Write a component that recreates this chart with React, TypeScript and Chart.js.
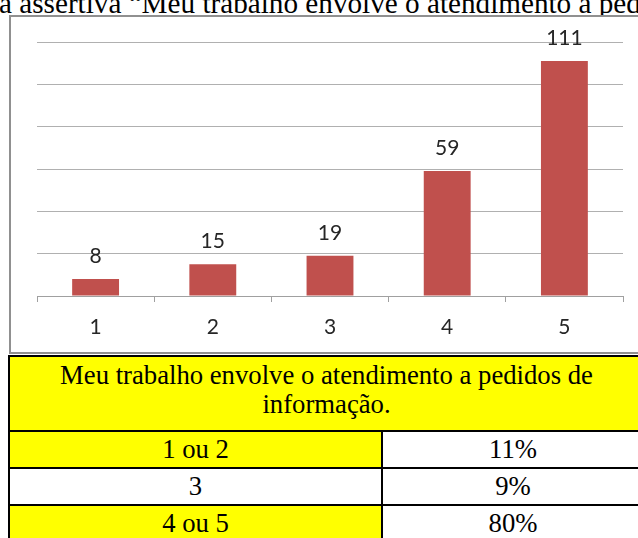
import React, { useEffect, useRef } from "react";
import { Chart, registerables } from "chart.js";

Chart.register(...registerables);

const titleText = "a assertiva “Meu trabalho envolve o atendimento a pedidos de informação.”";
const categories = ["1", "2", "3", "4", "5"];
const counts = [8, 15, 19, 59, 111];
const yMax = 120;
const yStep = 20;
const tableHeader = "Meu trabalho envolve o atendimento a pedidos de informação.";
const tableLabels = ["1 ou 2", "3", "4 ou 5"];
const tablePercents = ["11%", "9%", "80%"];
const labelYellow = [true, false, true];

const BAR_COLOR = "#C0504D";
const TEXT_DARK = "#262626";

const valueLabels = {
  id: "valueLabels",
  afterDatasetsDraw(chart: any) {
    const ctx = chart.ctx;
    const meta = chart.getDatasetMeta(0);
    const data = chart.data.datasets[0].data;
    ctx.save();
    ctx.font = "21px Lato";
    ctx.fillStyle = TEXT_DARK;
    ctx.textAlign = "center";
    ctx.textBaseline = "alphabetic";
    meta.data.forEach((el: any, i: number) => {
      ctx.fillText(String(data[i]), el.x, el.y - 16);
    });
    ctx.restore();
  },
};

function BarChart() {
  const ref = useRef<HTMLCanvasElement | null>(null);
  useEffect(() => {
    if (!ref.current) return;
    const chart = new Chart(ref.current, {
      type: "bar",
      data: {
        labels: categories,
        datasets: [
          {
            data: counts,
            backgroundColor: BAR_COLOR,
            borderWidth: 0,
            barPercentage: 0.4,
            categoryPercentage: 1,
          },
        ],
      },
      options: {
        responsive: false,
        animation: false,
        devicePixelRatio: 1,
        layout: { padding: { left: 26, right: 15, top: 25, bottom: 0 } },
        plugins: {
          legend: { display: false },
          tooltip: { enabled: false },
          title: { display: false },
        },
        scales: {
          x: {
            afterFit: (s: any) => {
              s.height = 56;
            },
            grid: {
              display: true,
              drawOnChartArea: false,
              drawTicks: true,
              tickLength: 6,
              color: "#a0a0a0",
              offset: true,
            },
            border: { display: true, color: "#a0a0a0", width: 1 },
            ticks: {
              color: TEXT_DARK,
              font: { family: "Lato", size: 21 },
              padding: 13,
              maxRotation: 0,
            },
          },
          y: {
            min: 0,
            max: yMax,
            afterFit: (s: any) => {
              s.width = 0;
            },
            ticks: { display: false, stepSize: yStep },
            grid: { color: "#b0b0b0", drawTicks: false },
            border: { display: false },
          },
        },
      },
      plugins: [valueLabels],
    });
    return () => chart.destroy();
  }, []);
  return <canvas ref={ref} width={627} height={335} style={{ display: "block", width: 627, height: 335 }} />;
}

export default function App() {
  const serif = '"Liberation Serif", "Times New Roman", serif';
  const rowTops = [432, 469, 506];
  return (
    <div
      style={{
        position: "fixed",
        left: 0,
        top: 0,
        width: 638,
        height: 538,
        overflow: "hidden",
        background: "#fff",
      }}
    >
      <div
        style={{
          position: "absolute",
          left: -1,
          top: -11.5,
          fontFamily: serif,
          fontSize: 29.2,
          lineHeight: "29.2px",
          whiteSpace: "nowrap",
          color: "#000",
        }}
      >
        {titleText}
      </div>
      <div
        style={{
          position: "absolute",
          left: 9,
          top: 15,
          width: 700,
          height: 339,
          boxSizing: "border-box",
          border: "2px solid #909090",
          background: "#fff",
        }}
      />
      <div style={{ position: "absolute", left: 11, top: 17 }}>
        <BarChart />
      </div>
      <div
        style={{
          position: "absolute",
          left: 8,
          top: 355,
          width: 637,
          height: 188,
          background: "#000",
          fontFamily: serif,
          fontSize: 26.7,
          color: "#000",
        }}
      >
        <div
          style={{
            position: "absolute",
            left: 2,
            top: 2,
            width: 633,
            height: 73,
            background: "#ffff00",
            textAlign: "center",
            lineHeight: "29px",
            paddingTop: 4,
            paddingLeft: 6,
            paddingRight: 6,
            boxSizing: "border-box",
          }}
        >
          {tableHeader}
        </div>
        {tableLabels.map((lab, i) => (
          <React.Fragment key={lab}>
            <div
              style={{
                position: "absolute",
                left: 2,
                top: rowTops[i] - 355,
                width: 371,
                height: 35,
                lineHeight: "35px",
                textAlign: "center",
                background: labelYellow[i] ? "#ffff00" : "#fff",
              }}
            >
              {lab}
            </div>
            <div
              style={{
                position: "absolute",
                left: 375,
                top: rowTops[i] - 355,
                width: 260,
                height: 35,
                lineHeight: "35px",
                textAlign: "center",
                background: "#fff",
              }}
            >
              {tablePercents[i]}
            </div>
          </React.Fragment>
        ))}
      </div>
    </div>
  );
}
